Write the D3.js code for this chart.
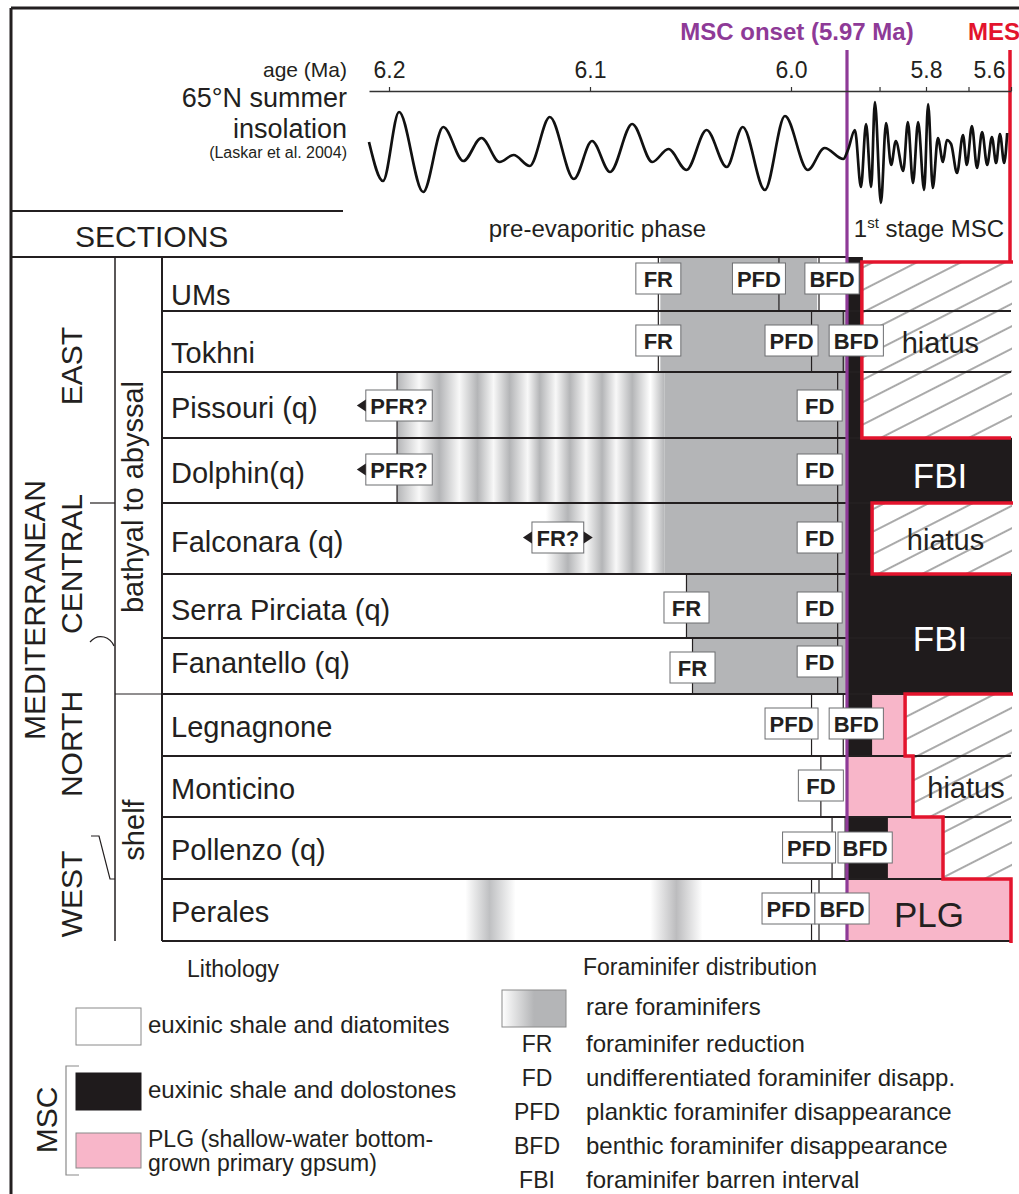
<!DOCTYPE html>
<html><head><meta charset="utf-8">
<script src="https://cdn.jsdelivr.net/npm/d3@7"></script>
<style>
body{margin:0;background:#fff;}
svg{display:block;font-family:"Liberation Sans",Arial,Helvetica,sans-serif;}
</style></head><body>
<svg id="c" width="1019" height="1194"></svg>
<script>
// ================= DATA =================
const ageTicks = [6.2, 6.1, 6.0, 5.9, 5.8, 5.7, 5.6];
const ageTickLabels = ['6.2', '6.1', '6.0', '', '5.8', '', '5.6'];
const mscOnsetAge = 5.97;
const mesAge = 5.6;

// 65N summer insolation (Laskar et al. 2004) (W/m2, approx.)
const insolAge = [6.210,6.203,6.195,6.183,6.173,6.163,6.154,6.145,6.138,6.130,6.120,6.108,6.099,6.090,6.079,6.069,6.061,6.052,6.042,6.032,6.024,6.013,6.003,5.991,5.982,5.972,
  5.968,5.953,5.940,5.929,5.918,5.910,5.897,5.886,5.875,5.865,5.849,5.839,5.828,5.817,5.804,5.795,5.784,5.772,5.760,5.751,5.741,5.727,5.713,5.704,5.692,5.680,5.668,5.656,5.645,5.635,5.626,5.616,5.609];
const insolValue = [493,454,523,443,508,474,497,473,480,469,518,456,494,463,511,473,486,465,505,468,508,445,519,465,487,476,
  485,505,448,511,448,533,432,512,470,494,464,513,452,513,445,531,447,497,473,495,491,462,500,470,509,467,503,470,498,472,501,472,502];

const sections = ['UMs','Tokhni','Pissouri (q)','Dolphin(q)','Falconara (q)','Serra Pirciata (q)','Fanantello (q)','Legnagnone','Monticino','Pollenzo (q)','Perales'];
const regions = ['EAST','CENTRAL','NORTH','WEST'];
const depthZones = ['bathyal to abyssal','shelf'];

// rare foraminifers: solid interval (age from, age to)
const rareFrom = [6.065, 6.065, 6.063, 6.063, 6.063, 6.052, 6.049, null, null, null, null];
const rareTo   = [5.986, 5.970, 5.970, 5.970, 5.970, 5.970, 5.970, null, null, null, null];
// rare foraminifers: banded intervals [age, grey level 0..1]
const bandsPissouri  = [[6.196,1],[6.185,0.1],[6.175,1],[6.165,0.1],[6.156,1],[6.148,0.1],[6.140,1],[6.131,0.1],[6.125,1],[6.117,0.1],[6.110,1],[6.102,0.1],[6.094,1],[6.087,0.1],[6.079,1],[6.070,0],[6.063,1]];
const bandsDolphin   = [[6.196,1],[6.185,0.1],[6.175,1],[6.165,0.1],[6.156,1],[6.148,0.1],[6.140,1],[6.131,0.1],[6.125,1],[6.117,0.1],[6.110,1],[6.102,0.1],[6.094,1],[6.087,0.1],[6.079,1],[6.070,0],[6.063,1]];
const bandsFalconara = [[6.122,0],[6.111,1],[6.102,0.1],[6.094,1],[6.087,0.1],[6.079,1],[6.070,0],[6.063,1]];
const bandsPerales   = [[6.162,0],[6.150,0.85],[6.137,0],[6.070,0],[6.057,0.9],[6.044,0]];
const rareBands = [null, null, bandsPissouri, bandsDolphin, bandsFalconara, null, null, null, null, null, bandsPerales];

// MSC lithology: D = euxinic shale & dolostones, G = PLG gypsum, H = hiatus
const mscUnits = [
  [['D',5.970,5.938],['H',5.938,5.6]],
  [['D',5.970,5.938],['H',5.938,5.6]],
  [['D',5.970,5.938],['H',5.938,5.6]],
  [['D',5.970,5.6]],
  [['D',5.970,5.916],['H',5.916,5.6]],
  [['D',5.970,5.6]],
  [['D',5.970,5.6]],
  [['D',5.970,5.916],['G',5.916,5.845],['H',5.845,5.6]],
  [['G',5.970,5.828],['H',5.828,5.6]],
  [['D',5.970,5.882],['G',5.882,5.760],['H',5.760,5.6]],
  [['G',5.970,5.6]]
];
const lithoNotes = [
  {text:'hiatus', row:1, rows:1, unit:'H'},
  {text:'FBI',    row:3, rows:1, unit:'D'},
  {text:'hiatus', row:4, rows:1, unit:'H'},
  {text:'FBI',    row:5, rows:2, unit:'D'},
  {text:'hiatus', row:8, rows:1, unit:'H'},
  {text:'PLG',    row:10, rows:1, unit:'G'}
];

// foraminifer events
const eventRow  = [0,0,0, 1,1,1, 2,2, 3,3, 4,4, 5,5, 6,6, 7,7, 8, 9,9, 10,10];
const eventType = ['FR','PFD','BFD','FR','PFD','BFD','PFR?','FD','PFR?','FD','FR?','FD','FR','FD','FR','FD','PFD','BFD','FD','PFD','BFD','PFD','BFD'];
const eventAge  = [6.066,6.006,5.985, 6.066,5.989,5.972, 6.196,5.975, 6.196,5.975, 6.116,5.975, 6.052,5.975, 6.049,5.975, 5.989,5.972, 5.984, 5.978,5.971, 5.989,5.985];

// legends
const lithoLegendType = ['W','D','G'];
const lithoLegendText = [['euxinic shale and diatomites'],['euxinic shale and dolostones'],['PLG (shallow-water bottom-','grown primary gpsum)']];
const foramAbbr = ['FR','FD','PFD','BFD','FBI'];
const foramDesc = ['foraminifer reduction','undifferentiated foraminifer disapp.','planktic foraminifer disappearance','benthic foraminifer disappearance','foraminifer barren interval'];

// ================= LAYOUT / STYLE =================
const rowH = [54,61,66,65,71,64,56,62,61,62,62];
const tableTop = 257;
const sectionLabelUp = [6,9,20,20,22,18,21,19,18,19,19];
const eventDx = [0,-20,13, 0,-20,13, 2,-18, 2,-18, 0,-18, 0,-18, 0,-18, -20,13, 0, -23,20, -23,23];
const eventDy = [6,6,6, 14,14,14, 18,18, 16,16, 19,19, 18,18, 14,8, 14,14, 14, 15,15, 14,14];
const C = {ink:'#231f20', grey:'#b4b5b7', black:'#1f1b1c', pink:'#f8b6c9', purple:'#8e3a97', red:'#e3142d'};

const svg = d3.select('#c');
const defs = svg.append('defs');

const rowTop = []; {let a = tableTop; rowH.forEach(h => {rowTop.push(a); a += h;});}
const rowBot = i => rowTop[i] + rowH[i];
const tableBottom = rowBot(rowH.length - 1);

const X = d3.scaleLinear().domain([6.21, 6.2, 6.0, 5.97, 5.8, 5.6]).range([369, 389, 791, 847, 926, 1011]);
const Y = d3.scaleLinear().domain([420, 540]).range([215, 95]);
const xOn = X(mscOnsetAge), xEnd = X(mesAge);
const colB = 115, colC = 162;

// hatch
const pat = defs.append('pattern').attr('id','hatch').attr('patternUnits','userSpaceOnUse')
  .attr('width',20).attr('height',20).attr('patternTransform','rotate(-27)');
pat.append('rect').attr('width',20).attr('height',20).attr('fill','#fff');
pat.append('line').attr('x1',0).attr('x2',20).attr('y1',10).attr('y2',10).attr('stroke','#555').attr('stroke-width',1);

const greyMix = d3.interpolateRgb('#ffffff', C.grey);

// ---------- rare foraminifers ----------
const gFill = svg.append('g');
rareFrom.forEach((a, i) => {
  if (a == null) return;
  gFill.append('rect').attr('x', X(a)).attr('y', rowTop[i]).attr('width', X(rareTo[i]) - X(a)).attr('height', rowH[i]).attr('fill', C.grey);
});
rareBands.forEach((b, i) => {
  if (!b) return;
  const x1 = X(b[0][0]), x2 = X(b[b.length-1][0]);
  const gr = defs.append('linearGradient').attr('id','band'+i).attr('gradientUnits','userSpaceOnUse')
    .attr('x1',x1).attr('x2',x2).attr('y1',0).attr('y2',0);
  b.forEach(s => gr.append('stop').attr('offset',(X(s[0])-x1)/(x2-x1)).attr('stop-color',greyMix(s[1])));
  gFill.append('rect').attr('x',x1).attr('y',rowTop[i]).attr('width',x2-x1).attr('height',rowH[i]).attr('fill','url(#band'+i+')');
});

// ---------- MSC lithology ----------
const unitFill = {D: C.black, G: C.pink, H: 'url(#hatch)'};
mscUnits.forEach((units, i) => {
  units.forEach(u => {
    const top = (u[0] === 'H' && i === 0) ? rowTop[i] + 5 : rowTop[i];
    gFill.append('rect').attr('x', X(u[1])).attr('y', top).attr('width', X(u[2]) - X(u[1]) + 1)
      .attr('height', rowBot(i) - top).attr('fill', unitFill[u[0]]);
  });
});

// ---------- frame & grid ----------
const gl = svg.append('g').attr('stroke', C.ink).attr('fill','none');
gl.append('path').attr('d', `M11,8H1019`).attr('stroke-width',3);
gl.append('path').attr('d', `M11,8V1194`).attr('stroke-width',3);
gl.append('path').attr('d', `M11,211H343`).attr('stroke-width',2);
gl.append('path').attr('d', `M11,${tableTop}H${xOn}`).attr('stroke-width',2);
for (let i = 1; i <= rowH.length; i++) {
  const y = i < rowH.length ? rowTop[i] : tableBottom;
  gl.append('path').attr('d', `M${colC},${y}H${xEnd}`).attr('stroke-width',2);
}
gl.append('path').attr('d', `M${colB},${tableTop}V${tableBottom}`).attr('stroke-width',1.5);
gl.append('path').attr('d', `M${colC},${tableTop}V${tableBottom}`).attr('stroke-width',2);
gl.append('path').attr('d', `M${colB},${rowTop[7]}H${colC}`).attr('stroke-width',1);
gl.append('path').attr('d', `M90,${rowTop[4]}H${colB}`).attr('stroke-width',1.2);
gl.append('path').attr('d', `M90,${rowTop[6]+4} Q96,${rowTop[6]-3} 104,${rowTop[6]-1} Q111,${rowTop[6]+1} 114,${rowTop[6]+8}`).attr('stroke-width',1.2);
gl.append('path').attr('d', `M91,836H99L110,${rowTop[10]}H${colB}`).attr('stroke-width',1.2);

// ---------- event ticks ----------
eventType.forEach((t, k) => {
  if (t === 'FR?') return;
  const r = eventRow[k], x = X(eventAge[k]);
  svg.append('line').attr('x1',x).attr('x2',x).attr('y1',rowTop[r]).attr('y2',rowBot(r))
    .attr('stroke',C.ink).attr('stroke-width',1.2);
});

// ---------- onset & MES lines ----------
svg.append('line').attr('x1',xOn).attr('x2',xOn).attr('y1',50).attr('y2',tableBottom)
  .attr('stroke',C.purple).attr('stroke-width',3.2);
svg.append('line').attr('x1',xEnd-1).attr('x2',xEnd-1).attr('y1',50).attr('y2',rowTop[0]+5)
  .attr('stroke',C.red).attr('stroke-width',3.5);

// red outlines of hiatus groups
const hLeft = mscUnits.map(u => { const h = u.find(d => d[0] === 'H'); return h ? X(h[1]) : null; });
const groups = [];
hLeft.forEach((x, i) => {
  if (x == null) return;
  const g = groups[groups.length-1];
  if (g && g.end === i-1) g.end = i; else groups.push({start:i, end:i});
});
groups.forEach(g => {
  const top = rowTop[g.start] + (g.start === 0 ? 5 : 0);
  let d = `M${xEnd+2},${top}H${hLeft[g.start]}`;
  for (let i = g.start; i <= g.end; i++) {
    d += `V${rowBot(i)}`;
    if (i < g.end) d += `H${hLeft[i+1]}`;
  }
  d += `H${xEnd}`;
  const nx = g.end + 1;
  if (nx < mscUnits.length && hLeft[nx] == null) {
    const last = mscUnits[nx][mscUnits[nx].length-1];
    if (last[0] === 'G') d += `V${rowBot(nx)+2}`;
  }
  svg.append('path').attr('d', d).attr('fill','none').attr('stroke',C.red).attr('stroke-width',3.5).attr('stroke-linejoin','miter');
});

// ---------- event boxes ----------
eventType.forEach((t, k) => {
  const r = eventRow[k];
  const cx = X(eventAge[k]) + eventDx[k];
  const top = rowTop[r] + eventDy[k];
  const g = svg.append('g');
  const rect = g.append('rect').attr('y', top).attr('height', 31).attr('fill','#fff').attr('stroke','#6d6e71').attr('stroke-width',1);
  const txt = g.append('text').attr('x', cx).attr('y', top + 23.5).attr('text-anchor','middle')
    .attr('font-weight','bold').attr('font-size',22).attr('fill',C.ink).text(t);
  const w = Math.max(45, txt.node().getComputedTextLength() + 9);
  rect.attr('x', cx - w/2).attr('width', w);
  const cy = top + 15.5;
  if (t === 'PFR?' || t === 'FR?') {
    const xl = cx - w/2;
    g.append('path').attr('d', `M${xl},${cy-6}L${xl-9},${cy}L${xl},${cy+6}Z`).attr('fill',C.ink);
  }
  if (t === 'FR?') {
    const xr = cx + w/2;
    g.append('path').attr('d', `M${xr},${cy-6}L${xr+9},${cy}L${xr},${cy+6}Z`).attr('fill',C.ink);
  }
});

// ---------- lithology notes ----------
lithoNotes.forEach(n => {
  const u = mscUnits[n.row].find(d => d[0] === n.unit);
  const x0 = X(u[1]), x1 = X(u[2]);
  const yc = (rowTop[n.row] + rowBot(n.row + n.rows - 1)) / 2;
  const isH = n.text === 'hiatus';
  svg.append('text').attr('x', (x0 + x1)/2 + (isH ? 4 : (n.text === 'FBI' ? 11 : 0)))
    .attr('y', yc + (isH ? 11 : 17)).attr('text-anchor','middle')
    .attr('font-size', isH ? 29 : 35)
    .attr('fill', n.text === 'FBI' ? '#fff' : C.ink).text(n.text);
});

// ---------- section / region labels ----------
sections.forEach((s, i) => {
  svg.append('text').attr('x', 171).attr('y', rowBot(i) - sectionLabelUp[i])
    .attr('font-size', 29).attr('fill', C.ink).text(s);
});
const vtext = (t, x, y, size) => svg.append('text').attr('transform', `translate(${x},${y}) rotate(-90)`)
  .attr('text-anchor','middle').attr('font-size', size).attr('fill', C.ink).text(t);
vtext('MEDITERRANEAN', 45, 610, 30);
const regionY = [366, 564, 744, 894];
regions.forEach((r, i) => vtext(r, 82, regionY[i], 30));
vtext(depthZones[0], 143, 497, 29);
vtext(depthZones[1], 144, 830, 29);

// ---------- top panel ----------
const ax = svg.append('g').attr('transform','translate(0,91)')
  .call(d3.axisTop(X).tickValues(ageTicks).tickSize(4).tickSizeOuter(0).tickPadding(9)
        .tickFormat((d, i) => ageTickLabels[i]));
ax.select('.domain').attr('stroke','#333').attr('stroke-width',1.5);
ax.selectAll('.tick line').attr('stroke','#333').attr('stroke-width',1.2);
ax.selectAll('.tick text').attr('font-size',23).attr('fill',C.ink).attr('font-family','Liberation Sans, Arial, sans-serif');
ax.selectAll('.tick').filter(d => d === mesAge).select('text').attr('text-anchor','end').attr('x',-6);

const pts = insolAge.map((a, i) => [a, insolValue[i]]);
svg.append('path').attr('d', d3.line().x(d => X(d[0])).y(d => Y(d[1])).curve(d3.curveMonotoneX)(pts))
  .attr('fill','none').attr('stroke','#111').attr('stroke-width',2.7).attr('stroke-linejoin','round');

const rt = (t, y, size) => svg.append('text').attr('x',347).attr('y',y).attr('text-anchor','end')
  .attr('font-size',size).attr('fill',C.ink).text(t);
rt('age (Ma)', 77, 21);
rt('65°N summer', 107, 27);
rt('insolation', 137.5, 27);
rt('(Laskar et al. 2004)', 158, 16);

svg.append('text').attr('x', xOn - 50).attr('y', 40).attr('text-anchor','middle').attr('font-size',24)
  .attr('font-weight','bold').attr('fill',C.purple).text('MSC onset (5.97 Ma)');
svg.append('text').attr('x', 968).attr('y', 40).attr('font-size',24)
  .attr('font-weight','bold').attr('fill',C.red).text('MES');

svg.append('text').attr('x',75).attr('y',247).attr('font-size',30).attr('fill',C.ink).text('SECTIONS');
svg.append('text').attr('x',(348 + xOn)/2).attr('y',237).attr('text-anchor','middle').attr('font-size',24).attr('fill',C.ink).text('pre-evaporitic phase');
const st = svg.append('text').attr('x',(xOn + xEnd)/2).attr('y',237).attr('text-anchor','middle').attr('font-size',24).attr('fill',C.ink);
st.append('tspan').text('1');
st.append('tspan').attr('font-size',15).attr('dy',-9).text('st');
st.append('tspan').attr('dy',9).text(' stage MSC');

// ---------- legends ----------
svg.append('text').attr('x',187).attr('y',977).attr('font-size',23).attr('fill',C.ink).text('Lithology');
const legY = [1008, 1073, 1133], legH = [37, 37, 35];
const legFill = {W:'#fff', D:C.black, G:C.pink};
lithoLegendType.forEach((t, i) => {
  svg.append('rect').attr('x',76).attr('y',legY[i]).attr('width',65).attr('height',legH[i])
    .attr('fill',legFill[t]).attr('stroke', t === 'D' ? C.black : '#8a8a8a').attr('stroke-width',1);
  const multi = lithoLegendText[i].length > 1;
  lithoLegendText[i].forEach((line, j) => {
    svg.append('text').attr('x',148).attr('y', (multi ? legY[i] + 14 : legY[i] + 25) + j*24)
      .attr('font-size', multi ? 23 : 24).attr('fill',C.ink).text(line);
  });
});
svg.append('path').attr('d','M79,1066H66V1175H79').attr('fill','none').attr('stroke','#8a8a8a').attr('stroke-width',1.2);
vtext('MSC', 57, 1120, 30);

svg.append('text').attr('x',583).attr('y',975).attr('font-size',23).attr('fill',C.ink).text('Foraminifer distribution');
const lg = defs.append('linearGradient').attr('id','legGrad');
lg.append('stop').attr('offset',0).attr('stop-color','#fff');
lg.append('stop').attr('offset',0.5).attr('stop-color',C.grey);
lg.append('stop').attr('offset',1).attr('stop-color',C.grey);
svg.append('rect').attr('x',502).attr('y',990).attr('width',64).attr('height',37)
  .attr('fill','url(#legGrad)').attr('stroke','#8a8a8a').attr('stroke-width',1);
svg.append('text').attr('x',586).attr('y',1015).attr('font-size',24).attr('fill',C.ink).text('rare foraminifers');
foramAbbr.forEach((a, i) => {
  svg.append('text').attr('x',537).attr('y',1052 + i*34).attr('text-anchor','middle').attr('font-size',23).attr('fill',C.ink).text(a);
  svg.append('text').attr('x',586).attr('y',1052 + i*34).attr('font-size',24).attr('fill',C.ink).text(foramDesc[i]);
});
</script>
</body></html>
